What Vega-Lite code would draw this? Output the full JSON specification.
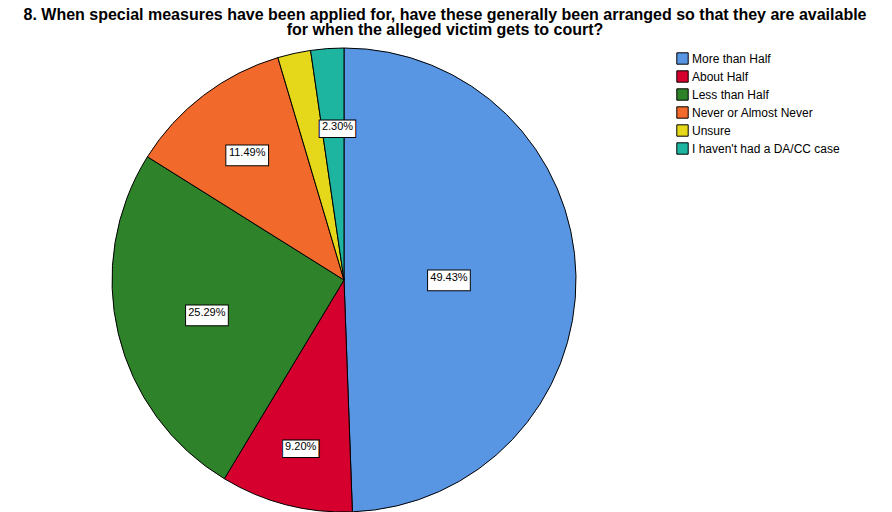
{
  "$schema": "https://vega.github.io/schema/vega-lite/v6.json",
  "width": 464,
  "height": 464,
  "autosize": {"type": "none"},
  "padding": {"left": 112, "top": 48, "right": 316, "bottom": 0},
  "background": "white",
  "title": {
    "text": ["8. When special measures have been applied for, have these generally been arranged so that they are available", "for when the alleged victim gets to court?"],
    "font": "Liberation Sans",
    "fontSize": 16,
    "fontWeight": "bold",
    "color": "#000",
    "anchor": "middle",
    "dx": 101,
    "offset": 8,
    "lineHeight": 15
  },
  "config": {"view": {"stroke": null}},
  "data": {
    "values": [
      {"cat": "More than Half", "pct": 49.43, "label": "49.43%", "order": 1},
      {"cat": "About Half", "pct": 9.20, "label": "9.20%", "order": 2},
      {"cat": "Less than Half", "pct": 25.29, "label": "25.29%", "order": 3},
      {"cat": "Never or Almost Never", "pct": 11.49, "label": "11.49%", "order": 4},
      {"cat": "Unsure", "pct": 2.30, "label": "2.30%", "order": 5},
      {"cat": "I haven't had a DA/CC case", "pct": 2.30, "label": "2.30%", "order": 6}
    ]
  },
  "encoding": {
    "theta": {"field": "pct", "type": "quantitative", "stack": true},
    "order": {"field": "order", "type": "quantitative"}
  },
  "layer": [
    {
      "mark": {"type": "arc", "stroke": "#000", "strokeWidth": 1},
      "encoding": {
        "color": {
          "field": "cat",
          "type": "nominal",
          "scale": {
            "domain": ["More than Half", "About Half", "Less than Half", "Never or Almost Never", "Unsure", "I haven't had a DA/CC case"],
            "range": ["#5896E3", "#D6002F", "#2E8229", "#F2692C", "#E5D71A", "#1DB4A0"]
          },
          "legend": {
            "title": null,
            "orient": "none",
            "legendX": 564,
            "legendY": 4,
            "symbolType": "square",
            "symbolSize": 130,
            "symbolStrokeColor": "#000",
            "symbolStrokeWidth": 1,
            "labelFont": "Liberation Sans",
            "labelFontSize": 12,
            "labelColor": "#000",
            "rowPadding": 1,
            "labelOffset": 3
          }
        }
      }
    },
    {
      "mark": {"type": "text", "radius": 105, "font": "DejaVu Sans", "fontSize": 56, "fill": "white", "stroke": "#000", "strokeWidth": 1},
      "encoding": {"text": {"value": "▬"}, "opacity": {"condition": {"test": "datum.cat == 'More than Half'", "value": 1}, "value": 0}}
    },
    {
      "mark": {"type": "text", "radius": 105, "font": "Liberation Sans", "fontSize": 11, "color": "#000"},
      "encoding": {"text": {"field": "label"}, "opacity": {"condition": {"test": "datum.cat == 'More than Half'", "value": 1}, "value": 0}}
    },
    {
      "mark": {"type": "text", "radius": 173, "font": "DejaVu Sans", "fontSize": 48, "fill": "white", "stroke": "#000", "strokeWidth": 1},
      "encoding": {"text": {"value": "▬"}, "opacity": {"condition": {"test": "datum.cat == 'About Half'", "value": 1}, "value": 0}}
    },
    {
      "mark": {"type": "text", "radius": 173, "font": "Liberation Sans", "fontSize": 11, "color": "#000"},
      "encoding": {"text": {"field": "label"}, "opacity": {"condition": {"test": "datum.cat == 'About Half'", "value": 1}, "value": 0}}
    },
    {
      "mark": {"type": "text", "radius": 141, "font": "DejaVu Sans", "fontSize": 56, "fill": "white", "stroke": "#000", "strokeWidth": 1},
      "encoding": {"text": {"value": "▬"}, "opacity": {"condition": {"test": "datum.cat == 'Less than Half'", "value": 1}, "value": 0}}
    },
    {
      "mark": {"type": "text", "radius": 141, "font": "Liberation Sans", "fontSize": 11, "color": "#000"},
      "encoding": {"text": {"field": "label"}, "opacity": {"condition": {"test": "datum.cat == 'Less than Half'", "value": 1}, "value": 0}}
    },
    {
      "mark": {"type": "text", "radius": 160, "font": "DejaVu Sans", "fontSize": 56, "fill": "white", "stroke": "#000", "strokeWidth": 1},
      "encoding": {"text": {"value": "▬"}, "opacity": {"condition": {"test": "datum.cat == 'Never or Almost Never'", "value": 1}, "value": 0}}
    },
    {
      "mark": {"type": "text", "radius": 160, "font": "Liberation Sans", "fontSize": 11, "color": "#000"},
      "encoding": {"text": {"field": "label"}, "opacity": {"condition": {"test": "datum.cat == 'Never or Almost Never'", "value": 1}, "value": 0}}
    },
    {
      "mark": {"type": "text", "radius": 153, "thetaOffset": 0.03, "font": "DejaVu Sans", "fontSize": 48, "fill": "white", "stroke": "#000", "strokeWidth": 1},
      "encoding": {"text": {"value": "▬"}, "opacity": {"condition": {"test": "datum.cat == \"I haven't had a DA/CC case\"", "value": 1}, "value": 0}}
    },
    {
      "mark": {"type": "text", "radius": 153, "thetaOffset": 0.03, "font": "Liberation Sans", "fontSize": 11, "color": "#000"},
      "encoding": {"text": {"field": "label"}, "opacity": {"condition": {"test": "datum.cat == \"I haven't had a DA/CC case\"", "value": 1}, "value": 0}}
    }
  ]
}
